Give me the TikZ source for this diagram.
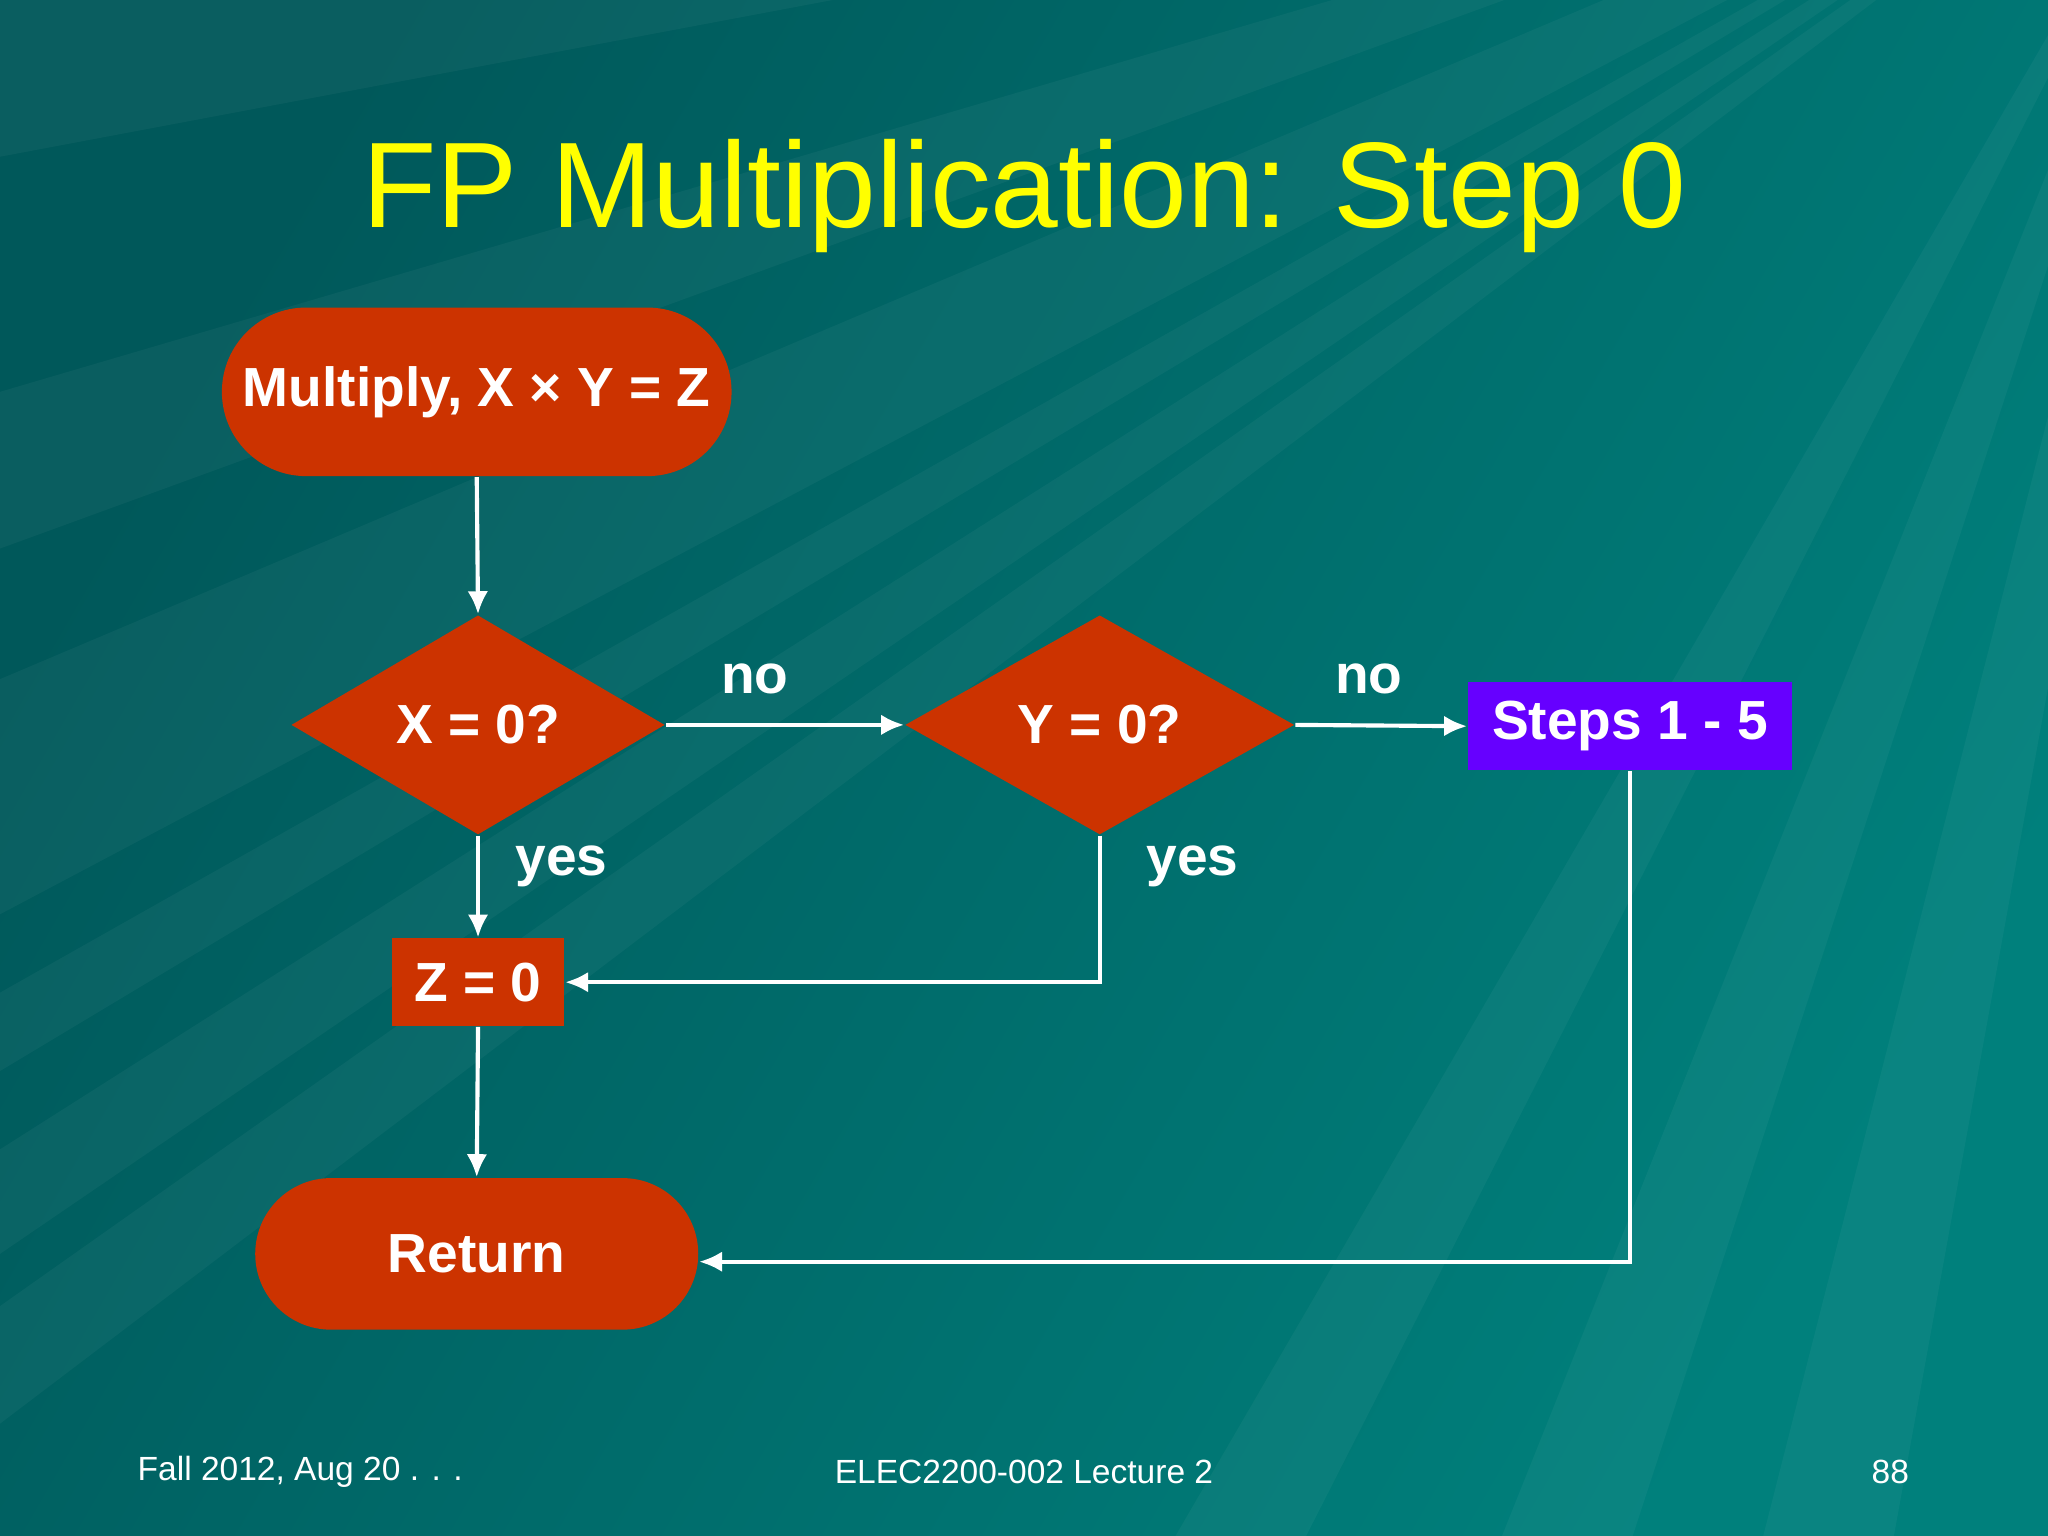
\documentclass[tikz,border=0pt]{standalone}
\usepackage{fontspec}
\setmainfont{Liberation Sans}
\usetikzlibrary{shapes.geometric,shapes.misc,arrows.meta}
\definecolor{bgA}{RGB}{0,88,90}
\definecolor{bgB}{RGB}{0,128,124}
\definecolor{nred}{RGB}{204,51,0}
\definecolor{npur}{RGB}{102,0,255}
\definecolor{ttl}{RGB}{255,255,0}
\tikzset{
  lbl/.style={text=white,font=\bfseries\fontsize{12}{14}\selectfont},
  term/.style={rounded rectangle,fill=nred,inner sep=0pt,lbl},
  dec/.style={diamond,fill=nred,inner sep=0pt,minimum width=2.86cm,minimum height=1.68cm,lbl},
  proc/.style={rectangle,fill=nred,inner sep=0pt,lbl},
  conn/.style={white,line width=0.9pt,-{Latex[length=5pt,width=4.5pt]}},
  foot/.style={text=white,font=\fontsize{7.3}{9}\selectfont}
}
\begin{document}
\begin{tikzpicture}[x=0.01cm,y=-0.01cm]
\shade[left color=bgA,right color=bgB,shading angle=60] (0,0) rectangle (1568,1176);
\useasboundingbox (0,0) rectangle (1568,1176);
\foreach \a/\b in {0/120,300/420,520/700,760/820,880/960,1000/1090}
  \fill[white,opacity=0.04] (1700,-200) -- (0,\a) -- (0,\b) -- cycle;
\foreach \a/\b in {900/1000,1150/1250,1350/1450}
  \fill[white,opacity=0.04] (1700,-200) -- (\a,1176) -- (\b,1176) -- cycle;
\node[text=ttl,font=\fontsize{26.5}{30}\selectfont] (title) at (784,150) {FP Multiplication: Step 0};
\node[term,minimum width=3.9cm,minimum height=1.29cm] (mul) at (365,300) {Multiply, X × Y = Z};
\node[dec] (dx) at (366,555) {X = 0?};
\node[dec,minimum width=2.98cm] (dy) at (842,555) {Y = 0?};
\node[rectangle,fill=npur,inner sep=0pt,minimum width=2.48cm,minimum height=0.67cm,lbl] (st) at (1248,556) {Steps 1 - 5};
\node[proc,minimum width=1.32cm,minimum height=0.67cm] (z) at (366,752) {Z = 0};
\node[term,minimum width=3.39cm,minimum height=1.16cm] (ret) at (365,960) {Return};
\draw[conn] (mul.south) -- (dx.north);
\draw[conn] (dx.south) -- (z.north);
\draw[conn] (z.south) -- (ret.north);
\draw[conn] (dx.east) -- (dy.west);
\draw[conn] (dy.east) -- (st.west);
\draw[conn] (dy.south) |- (z.east);
\draw[conn] (st.south) |- ([yshift=-0.06cm]ret.east);
\node[lbl] (n1) at (578,520) {no};
\node[lbl] (n2) at (1048,520) {no};
\node[lbl] (y1) at (430,663) {yes};
\node[lbl] (y2) at (913,663) {yes};
\node[foot,anchor=west] (f1) at (93,1127) {Fall 2012, Aug 20 . . .};
\node[foot] (f2) at (784,1127) {ELEC2200-002 Lecture 2};
\node[foot,anchor=east] (f3) at (1474,1127) {88};
\end{tikzpicture}
\end{document}
